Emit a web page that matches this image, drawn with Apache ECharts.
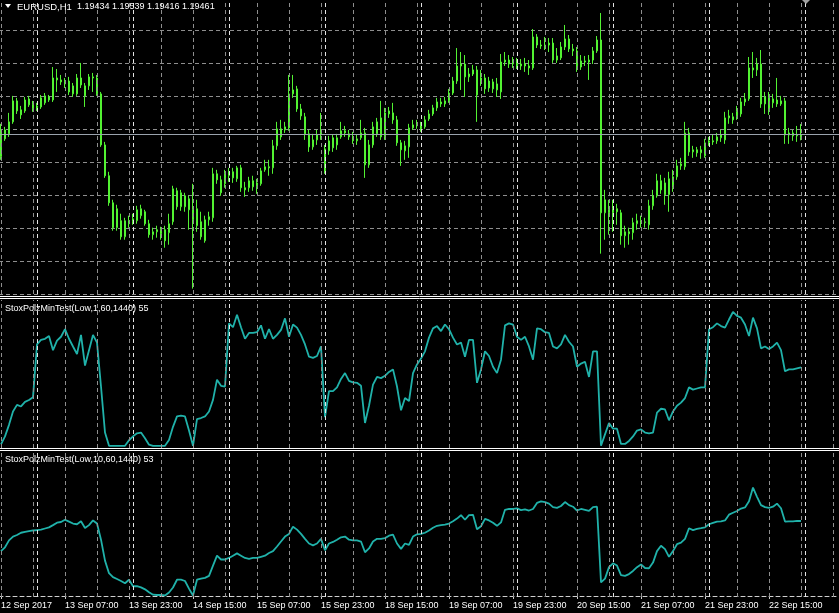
<!DOCTYPE html>
<html><head><meta charset="utf-8">
<script src="https://cdn.jsdelivr.net/npm/echarts@6/dist/echarts.min.js"></script>
<style>html,body{margin:0;padding:0;background:#000;overflow:hidden}#c{width:839px;height:613px}</style>
</head><body><div id="c"></div>
<script>
const SYMBOL_TEXT = 'EURUSD,H1';
const LAST_OHLC_TEXT = '1.19434 1.19539 1.19416 1.19461';
const IND1_NAME = 'StoxPolzMinTest(Low,1,60,1440) 55';
const IND2_NAME = 'StoxPolzMinTest(Low,10,60,1440) 53';
const TRADING_DAYS = ['12 Sep','13 Sep','14 Sep','15 Sep','18 Sep','19 Sep','20 Sep','21 Sep','22 Sep','25 Sep'];
const FIRST_HOUR = 15;
const SLOT_COUNT = 210;
const TICK_LABELS = ['12 Sep 2017','13 Sep 07:00','13 Sep 23:00','14 Sep 15:00','15 Sep 07:00','15 Sep 23:00','18 Sep 15:00','19 Sep 07:00','19 Sep 23:00','20 Sep 15:00','21 Sep 07:00','21 Sep 23:00','22 Sep 15:00'];
const PRICE_GRID_MIN = 1.1825, PRICE_GRID_STEP = 0.0025, PRICE_TOP = 1.20488;

const OPEN = [
1.19291,1.19495,1.19465,1.19556,1.19715,1.19647,1.19639,1.19730,1.19685,1.19654,
1.19669,1.19700,1.19745,1.19722,1.19889,1.19874,1.19859,1.19866,1.19768,1.19768,
1.19889,1.19829,1.19829,1.19897,1.19889,1.19768,1.19381,1.19147,1.18942,1.18753,
1.18806,1.18684,1.18806,1.18798,1.18806,1.18844,1.18874,1.18783,1.18700,1.18722,
1.18738,1.18738,1.18715,1.18798,1.19033,1.18912,1.18995,1.18972,1.18889,1.18768,
1.18798,1.18654,1.18813,1.18828,1.19162,1.19116,1.19086,1.19147,1.19177,1.19124,
1.19207,1.19056,1.19056,1.19109,1.19063,1.19086,1.19192,1.19215,1.19207,1.19374,
1.19503,1.19495,1.19510,1.19768,1.19806,1.19654,1.19594,1.19465,1.19366,1.19419,
1.19457,1.19351,1.19336,1.19435,1.19381,1.19442,1.19488,1.19465,1.19442,1.19412,
1.19435,1.19472,1.19230,1.19381,1.19465,1.19586,1.19442,1.19616,1.19624,1.19571,
1.19397,1.19336,1.19366,1.19510,1.19533,1.19525,1.19518,1.19578,1.19616,1.19662,
1.19707,1.19692,1.19715,1.19775,1.19866,1.19980,1.19995,1.19897,1.19919,1.19950,
1.19859,1.19889,1.19813,1.19859,1.19798,1.19783,1.20010,1.20025,1.19995,1.20010,
1.19980,1.19995,1.19980,1.19965,1.20200,1.20139,1.20132,1.20139,1.20154,1.20025,
1.20041,1.20124,1.20185,1.20109,1.20094,1.19972,1.20018,1.20010,1.20025,1.20094,
1.20177,1.18866,1.18889,1.18866,1.18897,1.18866,1.18692,1.18722,1.18715,1.18783,
1.18806,1.18791,1.18775,1.18919,1.18995,1.19109,1.19093,1.19003,1.19056,1.19139,
1.19222,1.19215,1.19472,1.19328,1.19344,1.19321,1.19298,1.19397,1.19412,1.19412,
1.19435,1.19419,1.19586,1.19594,1.19594,1.19616,1.19707,1.19730,1.19965,1.19950,
1.19995,1.19692,1.19738,1.19700,1.19722,1.19692,1.19715,1.19457,1.19472,1.19450,
1.19434];
const HIGH = [
1.19541,1.19518,1.19624,1.19753,1.19738,1.19677,1.19745,1.19753,1.19715,1.19700,
1.19760,1.19775,1.19760,1.19972,1.19957,1.19912,1.19889,1.19897,1.19851,1.19919,
1.20003,1.19851,1.19919,1.19927,1.19912,1.19783,1.19404,1.19177,1.18965,1.18927,
1.18859,1.18828,1.18844,1.18859,1.18919,1.18927,1.18889,1.18813,1.18753,1.18768,
1.18760,1.18768,1.18859,1.19071,1.19056,1.19040,1.19018,1.18995,1.19086,1.18965,
1.18874,1.18844,1.18874,1.19207,1.19192,1.19147,1.19192,1.19207,1.19207,1.19222,
1.19230,1.19101,1.19139,1.19147,1.19124,1.19207,1.19268,1.19268,1.19419,1.19556,
1.19571,1.19556,1.19912,1.19912,1.19829,1.19692,1.19624,1.19495,1.19465,1.19495,
1.19624,1.19381,1.19450,1.19457,1.19465,1.19556,1.19525,1.19495,1.19480,1.19457,
1.19571,1.19510,1.19419,1.19556,1.19586,1.19715,1.19662,1.19669,1.19700,1.19601,
1.19419,1.19412,1.19541,1.19571,1.19571,1.19556,1.19601,1.19647,1.19685,1.19738,
1.19738,1.19745,1.19806,1.19897,1.20116,1.20086,1.20063,1.19965,1.19988,1.19980,
1.19950,1.19919,1.19897,1.19882,1.19889,1.20071,1.20086,1.20063,1.20048,1.20041,
1.20033,1.20041,1.20025,1.20260,1.20222,1.20177,1.20200,1.20192,1.20192,1.20116,
1.20162,1.20291,1.20215,1.20147,1.20124,1.20063,1.20056,1.20063,1.20124,1.20207,
1.20382,1.19040,1.18965,1.18965,1.18934,1.18889,1.18768,1.18753,1.18828,1.18859,
1.18844,1.18828,1.18965,1.19040,1.19162,1.19154,1.19131,1.19177,1.19192,1.19268,
1.19283,1.19556,1.19510,1.19374,1.19366,1.19374,1.19427,1.19442,1.19457,1.19472,
1.19495,1.19632,1.19647,1.19624,1.19677,1.19738,1.19775,1.20048,1.20086,1.20041,
1.20101,1.19783,1.19783,1.19768,1.19889,1.19753,1.19738,1.19510,1.19495,1.19525,
1.19539];
const LOW = [
1.19268,1.19412,1.19442,1.19541,1.19616,1.19578,1.19624,1.19669,1.19632,1.19639,
1.19654,1.19685,1.19707,1.19707,1.19783,1.19836,1.19813,1.19760,1.19745,1.19753,
1.19813,1.19669,1.19798,1.19783,1.19753,1.19366,1.19131,1.18919,1.18730,1.18730,
1.18662,1.18662,1.18753,1.18775,1.18783,1.18821,1.18768,1.18677,1.18662,1.18677,
1.18662,1.18601,1.18624,1.18775,1.18889,1.18881,1.18874,1.18738,1.18291,1.18722,
1.18662,1.18639,1.18768,1.18798,1.19086,1.18995,1.19056,1.19101,1.19093,1.19101,
1.19025,1.18987,1.19025,1.19033,1.19010,1.19071,1.19177,1.19147,1.19162,1.19344,
1.19419,1.19472,1.19488,1.19738,1.19632,1.19571,1.19419,1.19328,1.19344,1.19381,
1.19419,1.19162,1.19306,1.19328,1.19344,1.19427,1.19442,1.19419,1.19389,1.19381,
1.19419,1.19131,1.19207,1.19359,1.19442,1.19419,1.19419,1.19586,1.19541,1.19374,
1.19222,1.19268,1.19283,1.19495,1.19503,1.19480,1.19503,1.19563,1.19601,1.19639,
1.19669,1.19669,1.19700,1.19760,1.19844,1.19798,1.19745,1.19859,1.19904,1.19556,
1.19829,1.19768,1.19783,1.19775,1.19745,1.19730,1.19980,1.19965,1.19965,1.19957,
1.19950,1.19935,1.19912,1.19950,1.20116,1.20109,1.20101,1.20086,1.20003,1.20003,
1.20025,1.20101,1.20086,1.20056,1.19935,1.19950,1.19980,1.19874,1.19995,1.20079,
1.18556,1.18662,1.18700,1.18722,1.18775,1.18624,1.18601,1.18624,1.18662,1.18738,
1.18753,1.18753,1.18738,1.18889,1.18980,1.19010,1.18927,1.18874,1.19025,1.19116,
1.19192,1.19192,1.19298,1.19283,1.19291,1.19275,1.19283,1.19374,1.19381,1.19389,
1.19404,1.19389,1.19541,1.19541,1.19571,1.19594,1.19677,1.19715,1.19889,1.19904,
1.19662,1.19616,1.19609,1.19662,1.19669,1.19677,1.19389,1.19389,1.19412,1.19404,
1.19416];
const CLOSE = [
1.19495,1.19427,1.19556,1.19715,1.19639,1.19609,1.19722,1.19685,1.19654,1.19677,
1.19738,1.19753,1.19722,1.19889,1.19874,1.19859,1.19844,1.19783,1.19829,1.19889,
1.19836,1.19753,1.19897,1.19889,1.19768,1.19381,1.19147,1.18942,1.18753,1.18897,
1.18684,1.18806,1.18783,1.18821,1.18889,1.18897,1.18783,1.18700,1.18722,1.18738,
1.18707,1.18654,1.18783,1.19048,1.18912,1.19018,1.18912,1.18889,1.18813,1.18897,
1.18684,1.18813,1.18836,1.19162,1.19116,1.19018,1.19162,1.19177,1.19131,1.19207,
1.19056,1.19040,1.19109,1.19063,1.19093,1.19184,1.19215,1.19207,1.19374,1.19503,
1.19442,1.19518,1.19768,1.19798,1.19654,1.19601,1.19465,1.19366,1.19419,1.19457,
1.19472,1.19177,1.19412,1.19359,1.19435,1.19488,1.19472,1.19442,1.19412,1.19427,
1.19472,1.19230,1.19381,1.19518,1.19556,1.19442,1.19624,1.19639,1.19571,1.19397,
1.19344,1.19374,1.19510,1.19533,1.19525,1.19503,1.19571,1.19616,1.19662,1.19707,
1.19692,1.19715,1.19775,1.19866,1.19980,1.19995,1.19897,1.19919,1.19950,1.19760,
1.19889,1.19806,1.19866,1.19806,1.19844,1.20010,1.20025,1.19995,1.20010,1.19980,
1.19995,1.19980,1.19965,1.20200,1.20139,1.20132,1.20139,1.20154,1.20025,1.20056,
1.20124,1.20185,1.20109,1.20094,1.19965,1.20018,1.20010,1.20025,1.20094,1.20177,
1.18866,1.18965,1.18866,1.18897,1.18874,1.18692,1.18722,1.18707,1.18791,1.18806,
1.18791,1.18798,1.18919,1.18995,1.19109,1.19040,1.19003,1.19124,1.19139,1.19222,
1.19237,1.19472,1.19328,1.19344,1.19321,1.19344,1.19397,1.19412,1.19404,1.19442,
1.19457,1.19586,1.19601,1.19571,1.19632,1.19707,1.19730,1.19965,1.19950,1.19995,
1.19692,1.19745,1.19647,1.19730,1.19692,1.19715,1.19457,1.19472,1.19450,1.19457,
1.19461];
const IND1 = [
1,6.6,14.7,24.1,28.7,27.6,30.8,32.1,34.0,71.1,
74.3,75.1,77.0,67.1,73.8,76.5,81.8,75.1,69.7,64.4,
77.8,56.3,67.1,77.8,72.4,41.6,9.3,0,0,0,
0,0,3.9,6.6,8.8,9.3,5.3,0.8,0,0,
0,0,4.0,13.3,20.6,21.1,20.6,10.7,0,18.7,
19.5,20.6,24.1,32.2,46.4,42.1,41.6,85.9,83.2,92.0,
83.2,75.1,79.2,79.2,79.7,84.5,75.1,81.8,75.1,77.8,
81.3,89.4,76.5,85.1,82.9,77.8,71.1,62.5,61.7,63.0,
69.7,20.1,38.3,38.3,41.0,46.9,51.0,45.6,44.5,44.2,
42.1,16.0,28.1,42.9,48.3,47.5,49.1,51.8,53.6,41.6,
24.9,33.5,31.4,51.0,57.1,61.2,66.3,75.9,82.4,84.0,
80.5,85.1,81.8,75.9,71.1,72.4,62.5,74.3,74.3,44.2,
53.6,66.3,63.0,55.5,51.0,60.4,84.5,85.9,85.1,76.5,
74.3,76.5,69.7,60.4,82.4,81.8,79.7,79.2,69.7,68.4,
71.1,77.8,73.0,69.7,55.5,57.7,59.0,48.3,66.3,66.3,
0,8.0,16.0,12.0,12.0,1.3,1.3,3.4,6.6,10.7,
11.5,9.3,8.8,9.3,23.3,26.0,25.5,17.9,24.1,28.1,
30.3,33.5,41.0,39.4,40.2,41.0,41.0,81.8,83.2,85.9,
84.0,82.9,88.6,93.9,91.2,89.9,85.1,77.0,89.9,82.4,
68.4,69.7,67.9,69.7,72.4,67.1,52.3,53.6,53.6,54.4,
55];
const IND2 = [
31.7,34.4,39.3,42.0,43.1,44.7,45.3,45.8,46.3,46.6,
46.9,47.7,48.5,50.1,51.8,52.3,53.9,52.6,51.2,50.7,
52.8,48.0,50.1,53.4,51.2,39.8,25.0,16.1,13.3,12.0,
10.6,9.0,11.5,6.9,6.9,6.1,4.7,2.6,0.9,0.7,
0.7,0.4,2.5,6.0,11.5,11.5,10.6,5.2,0.3,11.5,
12.3,12.8,14.2,21.5,28.5,25.8,25.8,26.9,28.5,30.1,
28.5,26.9,26.3,26.9,26.9,27.7,28.5,30.4,31.7,35.0,
38.5,42.0,43.9,49.0,46.9,43.9,40.4,37.1,35.8,37.1,
40.4,32.3,37.1,38.2,39.8,41.5,42.0,39.8,39.3,39.3,
38.5,30.9,33.6,38.5,40.4,40.4,40.9,42.6,43.4,37.1,
33.3,37.1,36.1,42.0,43.6,43.9,44.7,46.3,48.2,49.6,
50.1,50.4,51.2,52.8,54.7,57.1,53.9,57.1,57.4,47.2,
49.3,54.5,53.4,51.8,49.6,52.0,60.9,61.5,61.5,62.0,
60.7,61.2,60.4,61.5,65.8,66.9,66.4,65.3,62.8,62.3,
63.6,66.4,64.2,63.1,60.4,61.5,60.9,60.1,62.8,63.1,
9.6,12.3,20.4,23.1,21.5,14.7,14.2,15.5,17.7,20.4,
22.3,19.8,19.6,23.6,31.7,35.5,33.1,27.7,31.7,36.6,
37.7,40.4,47.9,46.6,47.4,47.9,48.5,50.7,51.7,52.6,
52.8,53.4,57.5,58.8,60.1,61.8,62.6,66.9,76.6,70.1,
64.2,62.8,62.3,63.1,65.3,62.0,52.6,52.8,52.8,53.1,
53];

// ---------- build ----------
const cats = [];
TRADING_DAYS.forEach((d, k) => {
  for (let h = (k === 0 ? FIRST_HOUR : 0); h < 24 && cats.length < SLOT_COUNT; h++) {
    cats.push(d + ' ' + String(h).padStart(2, '0') + ':00');
  }
});
const GREEN = '#52f232';
const GRID_C = '#8e8e8e';
const SEP_C = '#e4e4e4';
const LINE_C = '#20b2aa';
const FONT = "'Liberation Sans', Arial, sans-serif";

const vLines = [];
cats.forEach((c, i) => {
  if (i % 8 === 0) vLines.push({ xAxis: i, lineStyle: { color: GRID_C } });
  if (c.endsWith(' 00:00')) vLines.push({ xAxis: i, lineStyle: { color: SEP_C } });
});
const tickOn = (i) => i % 16 === 0 && (i / 16) < TICK_LABELS.length;

const candleData = OPEN.map((o, i) => [o, CLOSE[i], LOW[i], HIGH[i]]);

function gridLineSeries(g) {
  return {
    type: 'line', xAxisIndex: g, yAxisIndex: g, data: [], z: 1, silent: true,
    markLine: { silent: true, symbol: ['none', 'none'], label: { show: false },
      lineStyle: { type: [4, 3], width: 1 }, emphasis: { disabled: true }, animation: false,
      data: vLines }
  };
}

const grids = [
  { left: -1, width: 840, top: -1, height: 295 },
  { left: -1, width: 840, top: 300, height: 148 },
  { left: -1, width: 840, top: 452, height: 145 }
].map(g => Object.assign(g, { containLabel: false, outerBoundsMode: 'none' }));

const xAxes = [0, 1, 2].map(g => ({
  type: 'category', gridIndex: g, data: cats, boundaryGap: true,
  axisLine: g === 2 ? { show: true, lineStyle: { color: '#cfcfcf', type: [4, 3], width: 1 } } : { show: false },
  axisTick: g === 2 ? { show: true, alignWithLabel: true, interval: tickOn, length: 3, lineStyle: { color: '#cfcfcf' } } : { show: false },
  axisLabel: g === 2 ? {
    show: true, interval: tickOn, hideOverlap: false, align: 'left', margin: 4,
    color: '#ffffff', fontSize: 9, fontFamily: FONT,
    formatter: (v, i) => (i % 16 === 0 && TICK_LABELS[i / 16]) || ''
  } : { show: false },
  splitLine: { show: false }
}));

const option = {
  backgroundColor: '#000000',
  animation: false,
  grid: grids,
  xAxis: xAxes,
  yAxis: [
    { type: 'value', gridIndex: 0, min: PRICE_GRID_MIN, max: PRICE_TOP, interval: PRICE_GRID_STEP, scale: true,
      axisLine: { show: false }, axisTick: { show: false }, axisLabel: { show: false },
      splitLine: { show: true, lineStyle: { color: GRID_C, type: [4, 3], width: 1 } } },
    { type: 'value', gridIndex: 1, min: -1.54, max: 102.3, show: false, splitLine: { show: false } },
    { type: 'value', gridIndex: 2, min: -0.71, max: 101.77, show: false, splitLine: { show: false } }
  ],
  series: [
    gridLineSeries(0), gridLineSeries(1), gridLineSeries(2),
    {
      type: 'candlestick', xAxisIndex: 0, yAxisIndex: 0, z: 3, data: candleData,
      barWidth: 2,
      itemStyle: { color: '#000000', color0: GREEN, borderColor: GREEN, borderColor0: GREEN, borderWidth: 1 },
      emphasis: { disabled: true },
      markLine: { silent: true, symbol: ['none', 'none'], label: { show: false }, precision: 5,
        lineStyle: { color: '#9aa3ad', type: 'solid', width: 1 }, emphasis: { disabled: true },
        data: [{ yAxis: CLOSE[CLOSE.length - 1] }] }
    },
    { type: 'line', xAxisIndex: 1, yAxisIndex: 1, data: IND1, z: 3, showSymbol: false, symbol: 'none',
      lineStyle: { color: LINE_C, width: 1.8 }, emphasis: { disabled: true } },
    { type: 'line', xAxisIndex: 2, yAxisIndex: 2, data: IND2, z: 3, showSymbol: false, symbol: 'none',
      lineStyle: { color: LINE_C, width: 1.8 }, emphasis: { disabled: true } }
  ],
  graphic: { elements: [
    { type: 'line', silent: true, z: 10, shape: { x1: 0, y1: 296.5, x2: 839, y2: 296.5 }, style: { stroke: '#ffffff', lineWidth: 1 } },
    { type: 'line', silent: true, z: 10, shape: { x1: 0, y1: 298.5, x2: 839, y2: 298.5 }, style: { stroke: '#ffffff', lineWidth: 1 } },
    { type: 'line', silent: true, z: 10, shape: { x1: 0, y1: 448.5, x2: 839, y2: 448.5 }, style: { stroke: '#ffffff', lineWidth: 1 } },
    { type: 'line', silent: true, z: 10, shape: { x1: 0, y1: 450.5, x2: 839, y2: 450.5 }, style: { stroke: '#ffffff', lineWidth: 1 } },
    { type: 'polygon', silent: true, z: 10, shape: { points: [[5, 4], [11, 4], [8, 8]] }, style: { fill: '#ffffff' } },
    { type: 'polygon', silent: true, z: 10, shape: { points: [[802, 0], [810, 0], [806, 4]] }, style: { fill: '#a0a0a0' } },
    { type: 'text', silent: true, z: 10, style: { x: 17, y: 7, text: SYMBOL_TEXT, fill: '#ffffff', font: '9.5px ' + FONT, verticalAlign: 'middle' } },
    { type: 'text', silent: true, z: 10, style: { x: 77, y: 7, text: LAST_OHLC_TEXT, fill: '#ffffff', font: '9px ' + FONT, verticalAlign: 'middle' } },
    { type: 'text', silent: true, z: 10, style: { x: 5, y: 309, text: IND1_NAME, fill: '#ffffff', font: '9px ' + FONT, verticalAlign: 'middle' } },
    { type: 'text', silent: true, z: 10, style: { x: 5, y: 459.5, text: IND2_NAME, fill: '#ffffff', font: '9px ' + FONT, verticalAlign: 'middle' } }
  ] }
};
const chart = echarts.init(document.getElementById('c'), null, { renderer: 'canvas' });
chart.setOption(option);
</script>
</body></html>
